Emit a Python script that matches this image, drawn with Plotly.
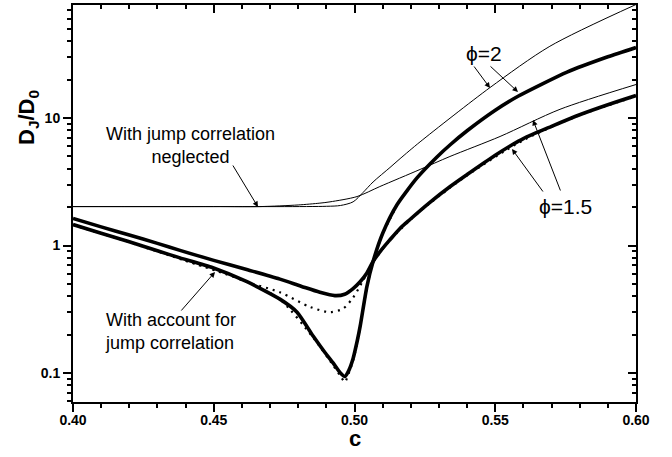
import plotly.graph_objects as go

# ---------------- data ----------------
# With account for jump correlation, phi = 1.5 (thick)
c_corr15 = [0.400, 0.410, 0.420, 0.430, 0.438, 0.450, 0.462, 0.4735, 0.481, 0.4877, 0.493,
            0.4965, 0.4995, 0.502, 0.5044, 0.5066, 0.5095, 0.5126, 0.516, 0.5197, 0.5268,
            0.534, 0.540, 0.550, 0.556, 0.560, 0.570, 0.580, 0.590, 0.600]
d_corr15 = [1.63, 1.40, 1.21, 1.04, 0.916, 0.765, 0.645, 0.545, 0.48, 0.43, 0.405,
            0.415, 0.46, 0.52, 0.61, 0.75, 0.92, 1.11, 1.35, 1.60, 2.18,
            2.9, 3.6, 5.1, 6.17, 6.9, 8.6, 10.6, 12.7, 15.0]

# With account for jump correlation, phi = 2 (thick)
c_corr2 = [0.400, 0.410, 0.420, 0.430, 0.438, 0.4497, 0.4618, 0.4735, 0.4796, 0.4853, 0.4895,
           0.4924, 0.495, 0.4966, 0.498, 0.4995, 0.501, 0.502, 0.5044, 0.5066, 0.5101,
           0.5151, 0.5222, 0.5293, 0.534, 0.540, 0.550, 0.5581, 0.5755, 0.590, 0.600]
d_corr2 = [1.46, 1.25, 1.07, 0.91, 0.80, 0.67, 0.52, 0.38, 0.30, 0.195, 0.145,
           0.12, 0.10, 0.094, 0.105, 0.13, 0.18, 0.232, 0.477, 0.75, 1.26,
           2.09, 3.39, 4.95, 6.17, 7.94, 11.5, 14.8, 22.9, 30.2, 35.7]

# Jump correlation neglected, phi = 2 (thin)
c_negl2 = [0.400, 0.450, 0.490, 0.495, 0.4995, 0.503, 0.5066, 0.5126, 0.5162, 0.5233,
           0.5481, 0.5694, 0.600]
d_negl2 = [2.02, 2.02, 2.03, 2.06, 2.2, 2.6, 3.15, 4.09, 4.8, 6.5,
           17.3, 36.5, 77.6]

# Jump correlation neglected, phi = 1.5 (thin)
c_negl15 = [0.400, 0.450, 0.4664, 0.480, 0.4877, 0.4913, 0.5009, 0.509, 0.5233, 0.5339,
            0.5517, 0.573, 0.600]
d_negl15 = [2.02, 2.02, 2.02, 2.08, 2.15, 2.2, 2.42, 2.9, 3.95, 4.99,
            7.16, 11.7, 18.3]

# Dotted curve (intermediate minimum)
c_dotA = [0.400, 0.420, 0.440, 0.455, 0.4604, 0.4735, 0.4842, 0.4913, 0.4959, 0.4995,
          0.503, 0.5066, 0.5126, 0.5197, 0.5268, 0.540, 0.560, 0.580, 0.600]
d_dotA = [1.45, 1.06, 0.76, 0.60, 0.53, 0.43, 0.33, 0.30, 0.32, 0.39,
          0.53, 0.74, 1.10, 1.58, 2.15, 3.55, 6.7, 10.5, 14.8]

# Dotted curve (deep minimum)
c_dotB = [0.440, 0.4618, 0.4735, 0.4853, 0.4924, 0.495, 0.4966, 0.498, 0.4995, 0.501,
          0.502, 0.5044, 0.5066, 0.5101, 0.5151]
d_dotB = [0.76, 0.52, 0.38, 0.19, 0.115, 0.095, 0.085, 0.10, 0.125, 0.175,
          0.23, 0.47, 0.75, 1.25, 2.05]

x_ticks = [0.40, 0.45, 0.50, 0.55, 0.60]
x_tick_text = ["0.40", "0.45", "0.50", "0.55", "0.60"]
x_minor = [0.41, 0.42, 0.43, 0.44, 0.46, 0.47, 0.48, 0.49, 0.51, 0.52, 0.53, 0.54,
           0.56, 0.57, 0.58, 0.59]
y_ticks = [0.1, 1, 10]
y_tick_text = ["0.1", "1", "10"]
y_minor = [0.06, 0.07, 0.08, 0.09, 0.2, 0.3, 0.4, 0.5, 0.6, 0.7, 0.8, 0.9,
           2, 3, 4, 5, 6, 7, 8, 9, 20, 30, 40, 50, 60, 70]

# ---------------- figure ----------------
W, H = 672, 457
L, R, T, B = 73, 36, 5, 55
PW, PH = W - L - R, H - T - B
FONT = "Liberation Sans, Arial, Helvetica, sans-serif"


def px2paper(px, py):
    return (px - L) / PW, (H - B - py) / PH


fig = go.Figure()

thin = dict(color="black", width=1.0)
thick = dict(color="black", width=3.6)
dotted = dict(color="black", width=2.2, dash="2px,5px")

fig.add_trace(go.Scatter(x=c_negl2, y=d_negl2, mode="lines", line=dict(thin, shape="spline", smoothing=0.8)))
fig.add_trace(go.Scatter(x=c_negl15, y=d_negl15, mode="lines", line=dict(thin, shape="spline", smoothing=0.8)))
fig.add_trace(go.Scatter(x=c_dotA, y=d_dotA, mode="lines", line=dict(dotted, shape="spline", smoothing=0.8)))
fig.add_trace(go.Scatter(x=c_dotB, y=d_dotB, mode="lines", line=dict(dotted, shape="spline", smoothing=0.6)))
fig.add_trace(go.Scatter(x=c_corr15, y=d_corr15, mode="lines", line=dict(thick, shape="spline", smoothing=0.8)))
fig.add_trace(go.Scatter(x=c_corr2, y=d_corr2, mode="lines", line=dict(thick, shape="spline", smoothing=0.6)))
# helper trace for the mirrored (inward-ticked) top/right axes
fig.add_trace(go.Scatter(x=[None], y=[None], xaxis="x2", yaxis="y2", mode="lines", hoverinfo="skip"))

yr = [-1.227, 1.886]
tickfont = dict(family=FONT, size=14, color="black", weight="bold")
common = dict(showgrid=False, zeroline=False, showline=True, linecolor="black", linewidth=2,
              ticklen=8, tickwidth=1.5, tickcolor="black")

fig.update_layout(
    width=W, height=H,
    margin=dict(l=L, r=R, t=T, b=B, pad=0),
    paper_bgcolor="white", plot_bgcolor="white",
    showlegend=False,
    xaxis=dict(common, range=[0.40, 0.60], ticks="outside", tickmode="array",
               tickvals=x_ticks, ticktext=x_tick_text, tickfont=tickfont,
               ticklabelstandoff=-4,
               minor=dict(tickmode="array", tickvals=x_minor, ticks="outside", ticklen=4,
                          tickwidth=1.5, tickcolor="black", showgrid=False)),
    yaxis=dict(common, type="log", range=yr, ticks="outside", tickmode="array",
               tickvals=y_ticks, ticktext=y_tick_text, tickfont=tickfont,
               minor=dict(tickmode="array", tickvals=y_minor, ticks="outside", ticklen=4,
                          tickwidth=1.5, tickcolor="black", showgrid=False)),
    xaxis2=dict(common, range=[0.40, 0.60], overlaying="x", side="top", anchor="y",
                ticks="inside", tickmode="array", tickvals=x_ticks, showticklabels=False,
                minor=dict(tickmode="array", tickvals=x_minor, ticks="inside", ticklen=4,
                           tickwidth=1.5, tickcolor="black", showgrid=False)),
    yaxis2=dict(common, type="log", range=yr, overlaying="y", side="right", anchor="x",
                ticks="inside", tickmode="array", tickvals=y_ticks, showticklabels=False,
                minor=dict(tickmode="array", tickvals=y_minor, ticks="inside", ticklen=4,
                           tickwidth=1.5, tickcolor="black", showgrid=False)),
)

ann = []
C = dict(xanchor="center", yanchor="middle", xref="paper", yref="paper", showarrow=False)
# axis titles
x0, y0 = px2paper(355, 438)
ann.append(dict(C, x=x0, y=y0, text="c",
                font=dict(family=FONT, size=22, color="black", weight="bold")))
x0, y0 = px2paper(28, 118)
ann.append(dict(C, x=x0, y=y0, text="D<sub>J</sub>/D<sub>0</sub>", textangle=-90,
                font=dict(family=FONT, size=22, color="black", weight="bold")))

# text labels
lab = dict(family=FONT, size=18, color="black")
x0, y0 = px2paper(190, 145)
ann.append(dict(C, x=x0, y=y0, text="With jump correlation<br>neglected", align="center", font=lab))
x0, y0 = px2paper(170, 331)
ann.append(dict(C, x=x0, y=y0, text="With account for<br>jump correlation", align="left", font=lab))
x0, y0 = px2paper(484, 53)
ann.append(dict(C, x=x0, y=y0, text="\u03d5=2", font=dict(family=FONT, size=21, color="black")))
x0, y0 = px2paper(565, 206)
ann.append(dict(C, x=x0, y=y0, text="\u03d5=1.5", font=dict(family=FONT, size=21, color="black")))

# arrows: (tip_px, tip_py, tail_px, tail_py)
arrows = [
    (258, 207, 232, 164),
    (215, 272, 180, 312),
    (490, 88, 473, 65),
    (518, 92, 489, 65),
    (533, 120, 561, 192),
    (512, 149, 544, 193),
]
for tx, ty, sx, sy in arrows:
    x0, y0 = px2paper(tx, ty)
    ann.append(dict(x=x0, y=y0, xref="paper", yref="paper", text="", showarrow=True,
                    ax=sx - tx, ay=sy - ty, axref="pixel", ayref="pixel",
                    arrowhead=2, arrowsize=1.1, arrowwidth=1, arrowcolor="black", standoff=0))

fig.update_layout(annotations=ann)
fig.write_html("out.html", config={"displayModeBar": False},
               post_script="document.body.style.margin='0';")
